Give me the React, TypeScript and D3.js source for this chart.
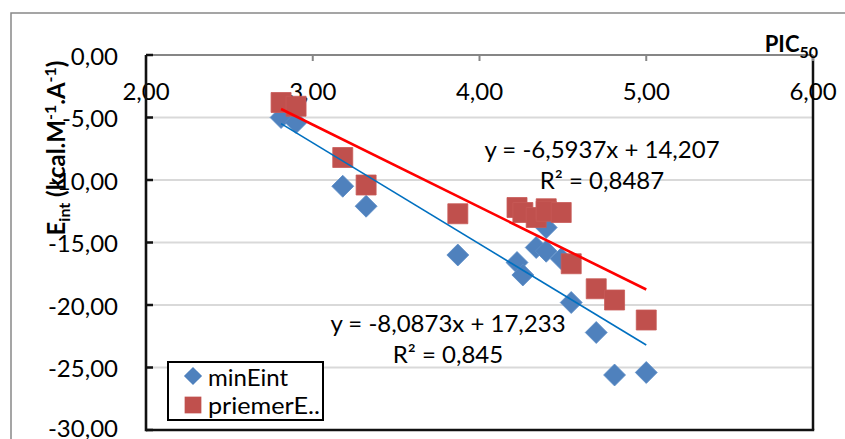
import React from "react";
import * as d3 from "d3";

// pIC50 of each compound (shared x values)
const pic50 = [2.81, 2.9, 3.18, 3.32, 3.87, 4.225, 4.26, 4.34, 4.4, 4.4, 4.49, 4.55, 4.7, 4.81, 5.0];
// minimum interaction energy per compound
const minEint = [-5.0, -5.4, -10.5, -12.1, -16.0, -16.6, -17.6, -15.4, -13.8, -15.7, -16.3, -19.8, -22.2, -25.6, -25.4];
// mean interaction energy per compound
const priemerE = [-3.8, -4.1, -8.2, -10.4, -12.7, -12.2, -12.6, -13.0, -12.3, -12.5, -12.6, -16.7, -18.7, -19.6, -21.2];

const seriesNames = ["minEint", "priemerE.."];
// linear trendlines (slope, intercept, R²)
const trendSlopes = [-8.0873, -6.5937];
const trendIntercepts = [17.233, 14.207];
const trendR2 = [0.845, 0.8487];

const xTicks = [2, 3, 4, 5, 6];
const yTicks = [0, -5, -10, -15, -20, -25, -30];

const W = 845;
const H = 439;
const FONT = "Lato, 'Open Sans', sans-serif";
const FS = 24;

const locale = d3.formatLocale({ decimal: ",", thousands: " ", grouping: [3], currency: ["", ""], minus: "-" });
const fmt2 = locale.format(".2f");
const fmtEq = locale.format(".4~f");

const BLUE = "#4F81BD";
const RED = "#C0504D";

function eqLabel(i: number) {
  const b = trendIntercepts[i];
  return `y = ${fmtEq(trendSlopes[i])}x ${b < 0 ? "-" : "+"} ${fmtEq(Math.abs(b))}`;
}

export default function App() {
  const x = d3.scaleLinear().domain([2, 6]).range([146, 813]);
  const y = d3.scaleLinear().domain([0, -30]).range([55, 430]);

  const diamondPath = d3.symbol(d3.symbolSquare, 240)()!;
  const squarePath = d3.symbol(d3.symbolSquare, 400)()!;
  const legDiamond = d3.symbol(d3.symbolSquare, 165)()!;
  const legSquare = d3.symbol(d3.symbolSquare, 280)()!;

  const xMin = d3.min(pic50)!;
  const xMax = d3.max(pic50)!;
  const line = d3.line<number[]>().x((d) => x(d[0])).y((d) => y(d[1]));
  const trend = (i: number) =>
    line([
      [xMin, trendSlopes[i] * xMin + trendIntercepts[i]],
      [xMax, trendSlopes[i] * xMax + trendIntercepts[i]],
    ]);

  const eqPos = [
    { cx: 448, cy: 322 },
    { cx: 602, cy: 148 },
  ];

  return (
    <div style={{ position: "fixed", left: 0, top: 0 }}>
      <svg width={W} height={H} style={{ display: "block", background: "#fff" }} fontFamily={FONT}>
        <rect x={11} y={13} width={W} height={H} fill="#fff" stroke="#888" strokeWidth={1.5} />

        {/* horizontal gridlines */}
        {yTicks
          .filter((t) => t !== 0 && t !== -30)
          .map((t) => (
            <line key={t} x1={x(2)} x2={x(6)} y1={y(t)} y2={y(t)} stroke="#D9D9D9" strokeWidth={2} />
          ))}

        {/* plot frame */}
        <line x1={x(6)} x2={x(6)} y1={y(0)} y2={y(-30)} stroke="#111" strokeWidth={2.5} />
        <line x1={x(2)} x2={x(6) + 1.2} y1={y(-30)} y2={y(-30)} stroke="#111" strokeWidth={2.5} />

        {/* x axis (top, at y = 0) */}
        <line x1={x(2)} x2={x(6)} y1={y(0)} y2={y(0)} stroke="#868686" strokeWidth={2} />
        {xTicks.map((t) => (
          <g key={t}>
            <line x1={x(t)} x2={x(t)} y1={y(0)} y2={y(0) + 6} stroke="#868686" strokeWidth={2} />
            <text x={x(t)} y={90} textAnchor="middle" dominantBaseline="central" fontSize={FS} fill="#000">
              {fmt2(t)}
            </text>
          </g>
        ))}
        <text x={818} y={52} textAnchor="end" fontSize={22} fontWeight="bold" fill="#000">
          PIC
          <tspan fontSize={16} dy={6}>50</tspan>
        </text>

        {/* y axis */}
        <line x1={x(2)} x2={x(2)} y1={y(0)} y2={y(-30) + 1.2} stroke="#111" strokeWidth={2.6} />
        {yTicks.map((t) => (
          <g key={t}>
            <line x1={x(2)} x2={x(2) + 7} y1={y(t)} y2={y(t)} stroke="#111" strokeWidth={2.5} />
            <text x={118} y={y(t) - (t === -30 ? 3 : 0)} textAnchor="end" dominantBaseline="central" fontSize={FS} fill="#000">
              {fmt2(t)}
            </text>
          </g>
        ))}
        <text
          transform={`translate(65,148) rotate(-90)`}
          textAnchor="middle"
          fontSize={24}
          fontWeight="bold"
          fill="#000"
        >
          E<tspan fontSize={16} dy={5}>int</tspan>
          <tspan dy={-5}> (kcal.M</tspan>
          <tspan fontSize={16} dy={-9}>-1</tspan>
          <tspan dy={9}>.A</tspan>
          <tspan fontSize={16} dy={-9}>-1</tspan>
          <tspan dy={9}>)</tspan>
        </text>

        {/* markers */}
        {pic50.map((p, i) => (
          <path
            key={"b" + i}
            d={diamondPath}
            transform={`translate(${x(p)},${y(minEint[i])}) rotate(45)`}
            fill={BLUE}
            stroke="#5B8CC6"
            strokeWidth={0.8}
          />
        ))}
        {pic50.map((p, i) => (
          <path
            key={"r" + i}
            d={squarePath}
            transform={`translate(${x(p)},${y(priemerE[i])})`}
            fill={RED}
            stroke="#C85B58"
            strokeWidth={0.8}
          />
        ))}

        {/* trendlines */}
        <path d={trend(0)!} fill="none" stroke="#0070C0" strokeWidth={1.6} />
        <path d={trend(1)!} fill="none" stroke="#FF0000" strokeWidth={2.6} />

        {/* trendline equations */}
        {eqPos.map((pos, i) => (
          <g key={"eq" + i} fontSize={FS} fill="#000" textAnchor="middle">
            <text x={pos.cx} y={pos.cy} dominantBaseline="central">
              {eqLabel(i)}
            </text>
            <text x={pos.cx} y={pos.cy + 31} dominantBaseline="central">
              R² = {fmtEq(trendR2[i])}
            </text>
          </g>
        ))}

        {/* legend */}
        <rect x={168} y={362} width={155} height={58} fill="#fff" stroke="#000" strokeWidth={2} />
        <path d={legDiamond} transform="translate(193,376) rotate(45)" fill={BLUE} />
        <text x={208} y={376} dominantBaseline="central" fontSize={FS} fill="#000">
          {seriesNames[0]}
        </text>
        <path d={legSquare} transform="translate(193,405)" fill={RED} />
        <text x={208} y={404} dominantBaseline="central" fontSize={FS} fill="#000" textLength={112} lengthAdjust="spacingAndGlyphs">
          {seriesNames[1]}
        </text>
      </svg>
    </div>
  );
}
